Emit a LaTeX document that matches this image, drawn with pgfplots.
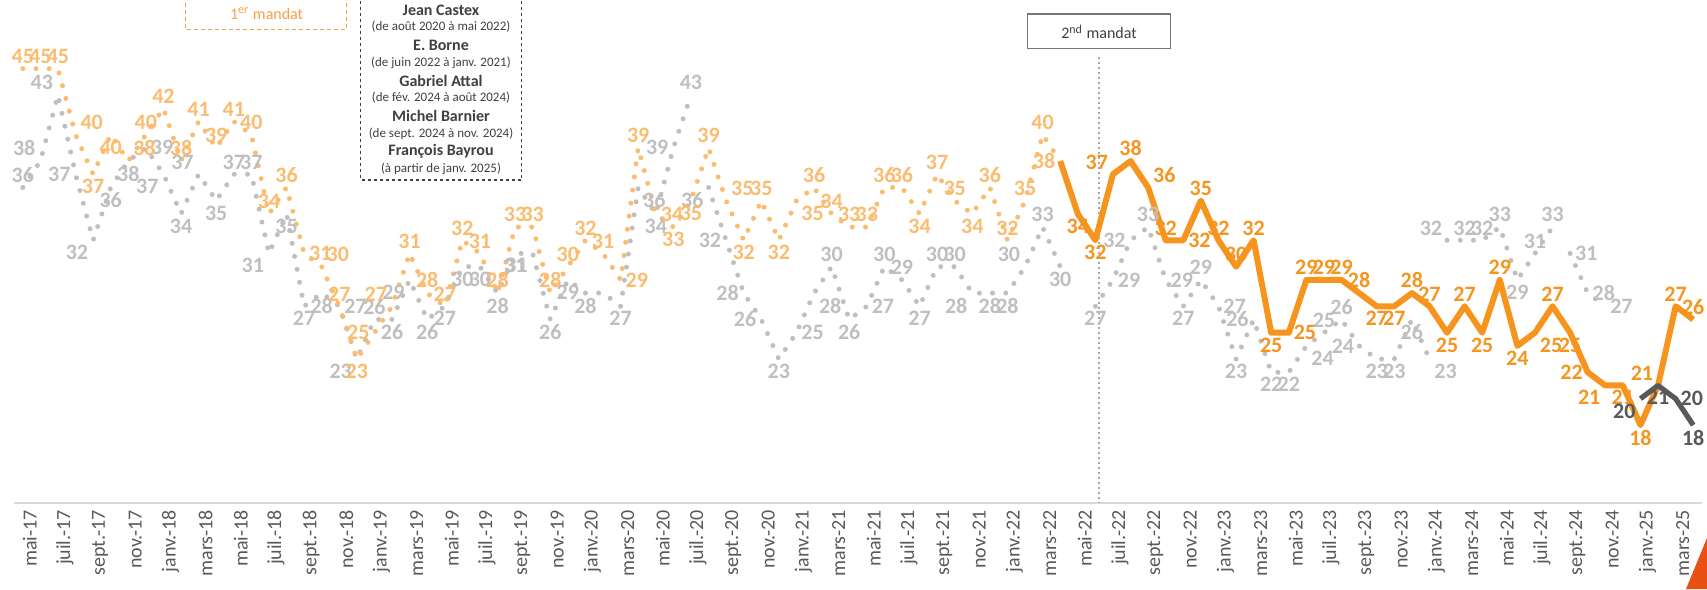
\documentclass[border=0pt]{standalone}
\usepackage{fontspec}
\setmainfont{Carlito}
\usepackage{pgfplots}
\pgfplotsset{compat=1.18}
\usepackage{pgfplotstable}

\definecolor{orD}{RGB}{247,148,29}
\definecolor{orL}{RGB}{251,188,112}
\definecolor{orT}{RGB}{246,160,70}
\definecolor{grL}{RGB}{191,191,191}
\definecolor{grD}{RGB}{89,89,89}
\definecolor{txtC}{RGB}{64,64,64}
\definecolor{tickC}{RGB}{89,89,89}
\definecolor{axisC}{RGB}{217,217,217}
\definecolor{vlC}{RGB}{166,166,166}
\definecolor{logoC}{RGB}{232,80,20}

% Macron, 1er mandat (dotted)
\pgfplotstableread[col sep=comma]{
x,y
0,45
1,45
2,45
3,40
4,37
5,40
6,38
7,40
8,42
9,38
10,41
11,39
12,41
13,40
14,34
15,36
16,31
17,30
18,27
19,23
20,25
21,27
22,31
23,28
24,27
25,32
26,31
27,28
28,33
29,33
30,28
31,30
32,32
33,31
34,29
35,39
36,34
37,33
38,35
39,39
40,35
41,32
42,35
43,32
44,35
45,36
46,34
47,33
48,33
49,36
50,36
51,34
52,37
53,35
54,34
55,36
56,32
57,35
58,40
59,38
}\tOL

% Premiers ministres (dotted, gaps between mandates)
\pgfplotstableread[col sep=comma]{
x,y
0,36
1,38
2,43
3,37
4,32
5,36
6,38
7,39
8,37
9,34
10,37
11,35
12,37
13,37
14,31
15,34
16,27
17,28
18,27
19,23
20,26
21,26
22,29
23,26
24,27
25,30
26,30
27,28
28,31
29,31
30,26
31,29
32,28
33,28
34,27
35,36
36,34
37,39
38,43
38.5,nan
39,36
40,32
41,28
42,26
43,23
44,25
45,28
46,30
47,26
48,27
49,30
50,29
51,27
52,30
53,30
54,28
55,28
56,28
57,30
58,33
59,30
60,nan
61,27
62,29
63,32
64,33
65,29
66,27
67,29
68,27
69,23
70,26
71,22
72,22
73,24
74,25
75,26
76,24
77,23
78,23
79,26
80,23
80.5,nan
81,32
82,32
83,32
84,33
85,29
86,31
87,33
87.5,nan
88,31
89,28
90,27
}\tG

% Macron, 2nd mandat (solid)
\pgfplotstableread[col sep=comma]{
x,y
59,38
60,34
61,32
62,37
63,38
64,36
65,32
66,32
67,35
68,32
69,30
70,32
71,25
72,25
73,29
74,29
75,29
76,28
77,27
78,27
79,28
80,27
81,25
82,27
83,25
84,29
85,24
86,25
87,27
88,25
89,22
90,21
91,21
92,18
93,21
94,27
95,26
}\tOD

% F. Bayrou (solid)
\pgfplotstableread[col sep=comma]{
x,y
92,20
93,21
94,20
95,18
}\tB

\pgfplotsset{
  lab/.style 2 args={draw=none, mark=none, nodes near coords, point meta=explicit symbolic,
    every node near coord/.append style={anchor=#2, text=#1,
      font=\bfseries\fontsize{11}{12}\selectfont, inner sep=2.3pt}},
  dots/.style={#1, line width=2.5pt, line cap=round, dash pattern=on 0pt off 6.6pt}
}

\begin{document}
\begin{tikzpicture}
\useasboundingbox (0,0) rectangle (853.5pt,294.5pt);
\begin{axis}[
  at={(7pt,43pt)}, anchor=south west,
  scale only axis, width=844pt, height=251.5pt,
  xmin=-0.5, xmax=95.5, ymin=12.1, ymax=50.2,
  axis x line=bottom, axis y line=none,
  x axis line style={draw=axisC, line width=1pt, -},
  xtick={0,2,...,94},
  xticklabels={mai-17,juil.-17,sept.-17,nov.-17,janv.-18,mars-18,mai-18,juil.-18,sept.-18,nov.-18,janv.-19,mars-19,mai-19,juil.-19,sept.-19,nov.-19,janv.-20,mars-20,mai-20,juil.-20,sept.-20,nov.-20,janv.-21,mars-21,mai-21,juil.-21,sept.-21,nov.-21,janv.-22,mars-22,mai-22,juil.-22,sept.-22,nov.-22,janv.-23,mars-23,mai-23,juil.-23,sept.-23,nov.-23,janv.-24,mars-24,mai-24,juil.-24,sept.-24,nov.-24,janv.-25,mars-25},
  xticklabel style={rotate=90, anchor=east, font=\fontsize{10}{12}\selectfont, text=tickC, yshift=-3.5pt},
  major tick length=0pt, ytick=\empty,
  clip=false,
  unbounded coords=jump,
]
% vertical separator for 2nd mandate
\draw[vlC, line width=1pt, dash pattern=on 1.2pt off 1.3pt] (axis cs:61.22,45.9) -- (axis cs:61.22,12.1);

% lines
\addplot[dots=grL] table[x=x,y=y]{\tG};
\addplot[dots=orL] table[x=x,y=y]{\tOL};
\addplot[orD, line width=3pt, line join=round, mark=none] table[x=x,y=y]{\tOD};
\addplot[grD, line width=2.6pt, line join=round, mark=none] table[x=x,y=y]{\tB};

% ---- labels: Premiers ministres
\addplot[lab={grL}{south}] coordinates {(0,36)[36] (12,37)[37] (13,37)[37] (20,26)[26] (38,43)[43] (46,30)[30] (49,30)[30] (50,29)[29] (52,30)[30] (53,30)[30] (58,33)[33] (64,33)[33] (67,29)[29] (74,25)[25] (75,26)[26] (82,32)[32] (83,32)[32] (84,33)[33] (86,31)[31] (87,33)[33]};
\addplot[lab={grL}{south east}] coordinates {(1,38)[38] (2,43)[43] (10,37)[37] (57,30)[30] (81,32)[32]};
\addplot[lab={grL}{east}] coordinates {(3,37)[37] (37,39)[39] (40,32)[32] (41,28)[28] (42,26)[26] (63,32)[32] (70,26)[26] (76,24)[24]};
\addplot[lab={grL}{north east}] coordinates {(4,32)[32] (8,37)[37] (14,31)[31] (19,23)[23] (22,29)[29] (29,31)[31] (39,36)[36] (54,28)[28]};
\addplot[lab={grL}{north}] coordinates {(5,36)[36] (6,38)[38] (9,34)[34] (11,35)[35] (15,34)[35] (16,27)[27] (17,28)[28] (21,26)[26] (23,26)[26] (24,27)[27] (25,30)[30] (26,30)[30] (27,28)[28] (28,31)[31] (30,26)[26] (31,29)[29] (32,28)[28] (34,27)[27] (36,34)[34] (43,23)[23] (47,26)[26] (51,27)[27] (55,28)[28] (56,28)[28] (59,30)[30] (61,27)[27] (66,27)[27] (69,23)[23] (71,22)[22] (72,22)[22] (77,23)[23] (78,23)[23] (79,26)[26] (85,29)[29]};
\addplot[lab={grL}{west}] coordinates {(7,39)[39] (18,27)[27] (44,25)[25] (48,27)[27] (62,29)[29] (65,29)[29] (68,27)[27] (88,31)[31] (89,28)[28] (90,27)[27]};
\addplot[lab={grL}{north west}] coordinates {(35,36)[36] (45,28)[28] (73,24)[24] (80,23)[23]};

% ---- labels: Macron 1er mandat
\addplot[lab={orL}{south}] coordinates {(0,45)[45] (1,45)[45] (2,45)[45] (7,40)[40] (8,42)[42] (9,38)[38] (10,41)[41] (11,39)[39] (12,41)[41] (13,40)[40] (14,34)[34] (15,36)[36] (18,27)[27] (22,31)[31] (23,28)[28] (24,27)[27] (25,32)[32] (26,31)[31] (27,28)[28] (28,33)[33] (29,33)[33] (30,28)[28] (31,30)[30] (32,32)[32] (33,31)[31] (35,39)[39] (39,39)[39] (42,35)[35] (45,36)[36] (46,34)[34] (47,33)[33] (48,33)[33] (49,36)[36] (50,36)[36] (52,37)[37] (53,35)[35] (55,36)[36] (56,32)[32] (57,35)[35] (58,40)[40]};
\addplot[lab={orL}{south west}] coordinates {(3,40)[40] (6,38)[38] (17,30)[30] (40,35)[35]};
\addplot[lab={orL}{north}] coordinates {(4,37)[37] (5,40)[40] (19,23)[23] (37,33)[33] (38,35)[35] (41,32)[32] (43,32)[32] (51,34)[34] (54,34)[34]};
\addplot[lab={orL}{west}] coordinates {(16,31)[31] (34,29)[29] (36,34)[34]};
\addplot[lab={orL}{east}] coordinates {(20,25)[25] (59,38)[38]};
\addplot[lab={orL}{south east}] coordinates {(21,27)[27]};
\addplot[lab={orL}{north west}] coordinates {(44,35)[35]};

% ---- labels: Macron 2nd mandat
\addplot[lab={orD}{north}] coordinates {(60,34)[34] (61,32)[32] (71,25)[25] (77,27)[27] (78,27)[27] (81,25)[25] (83,25)[25] (85,24)[24] (88,25)[25] (91,21)[21] (92,18)[18]};
\addplot[lab={orD}{south east}] coordinates {(62,37)[37] (93,21)[21]};
\addplot[lab={orD}{south}] coordinates {(63,38)[38] (65,32)[32] (67,35)[35] (68,32)[32] (69,30)[30] (70,32)[32] (73,29)[29] (74,29)[29] (75,29)[29] (76,28)[28] (79,28)[28] (80,27)[27] (82,27)[27] (84,29)[29] (87,27)[27] (94,27)[27] (95,26)[26]};
\addplot[lab={orD}{south west}] coordinates {(64,36)[36]};
\addplot[lab={orD}{west}] coordinates {(66,32)[32] (72,25)[25]};
\addplot[lab={orD}{north west}] coordinates {(86,25)[25]};
\addplot[lab={orD}{east}] coordinates {(89,22)[22]};
\addplot[lab={orD}{north east}] coordinates {(90,21)[21]};

% ---- labels: Bayrou
\addplot[lab={grD}{north east}] coordinates {(92,20)[20]};
\addplot[lab={grD}{north}] coordinates {(93,21)[21] (95,18)[18]};
\addplot[lab={grD}{west}] coordinates {(94,20)[20]};
\end{axis}

% 1er mandat box
\draw[orT, line width=0.6pt, dash pattern=on 2pt off 1.5pt] (92.8pt,300pt) -- (92.8pt,279.8pt) -- (173.3pt,279.8pt) -- (173.3pt,300pt);
\node[text=orT, font=\fontsize{8}{9}\selectfont] at (133.3pt,287.8pt) {1\textsuperscript{er} mandat};

% Prime ministers box
\draw[txtC, line width=0.6pt, dash pattern=on 1.5pt off 1.5pt] (180.3pt,300pt) -- (180.3pt,204.5pt) -- (260.8pt,204.5pt) -- (260.8pt,300pt);
\begin{scope}[every node/.style={text=txtC, inner sep=0pt}]
\node[font=\bfseries\fontsize{8}{9}\selectfont] at (220.5pt,289.5pt) {Jean Castex};
\node[font=\fontsize{6.5}{7}\selectfont] at (220.5pt,281pt) {(de août 2020 à mai 2022)};
\node[font=\bfseries\fontsize{8}{9}\selectfont] at (220.5pt,272pt) {E. Borne};
\node[font=\fontsize{6.5}{7}\selectfont] at (220.5pt,263.3pt) {(de juin 2022 à janv. 2021)};
\node[font=\bfseries\fontsize{8}{9}\selectfont] at (220.5pt,254pt) {Gabriel Attal};
\node[font=\fontsize{6.5}{7}\selectfont] at (220.5pt,245.5pt) {(de fév. 2024 à août 2024)};
\node[font=\bfseries\fontsize{8}{9}\selectfont] at (220.5pt,236.5pt) {Michel Barnier};
\node[font=\fontsize{6.5}{7}\selectfont] at (220.5pt,227.8pt) {(de sept. 2024 à nov. 2024)};
\node[font=\bfseries\fontsize{8}{9}\selectfont] at (220.5pt,219pt) {François Bayrou};
\node[font=\fontsize{6.5}{7}\selectfont] at (220.5pt,210pt) {(à partir de janv. 2025)};
\end{scope}

% 2nd mandat box
\draw[draw={rgb,255:red,118;green,118;blue,118}, fill=white, line width=0.6pt] (513.7pt,270.3pt) rectangle (585.3pt,287.5pt);
\node[text=txtC, font=\fontsize{8}{9}\selectfont] at (549.5pt,278.6pt) {2\textsuperscript{nd} mandat};

% corner decoration
\fill[logoC] (853.5pt,25.5pt) -- (853.5pt,0pt) -- (843pt,0pt) -- cycle;
\end{tikzpicture}
\end{document}
